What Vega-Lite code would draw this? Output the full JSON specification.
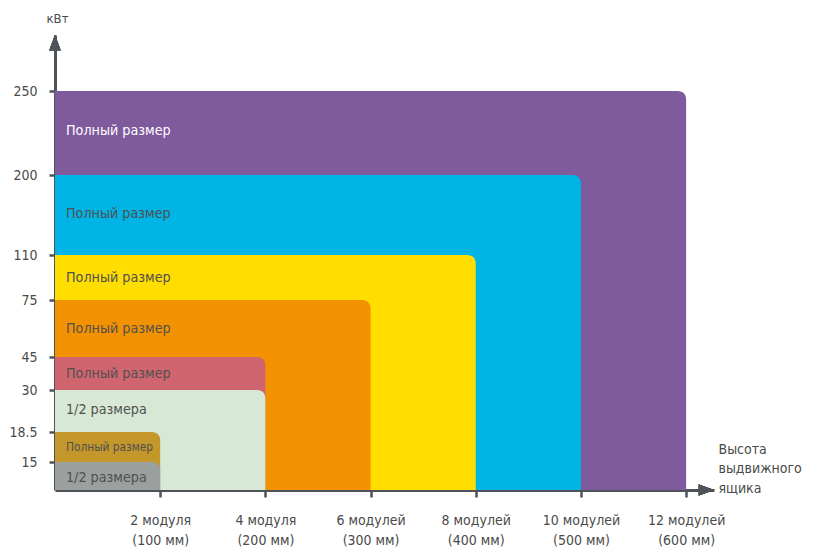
{
  "$schema": "https://vega.github.io/schema/vega-lite/v6.json",
  "autosize": "none",
  "width": 659,
  "height": 455,
  "padding": {"left": 55, "top": 35, "right": 102, "bottom": 58},
  "background": "white",
  "config": {"view": {"stroke": null}, "font": "DejaVu Sans Condensed, Liberation Sans"},
  "data": {"values": [
    {"series": "p250", "modules": 12, "kw": 250, "label": "Полный размер", "labelKw": 226},
    {"series": "p200", "modules": 10, "kw": 200, "label": "Полный размер", "labelKw": 156},
    {"series": "p110", "modules": 8, "kw": 110, "label": "Полный размер", "labelKw": 92},
    {"series": "p75", "modules": 6, "kw": 75, "label": "Полный размер", "labelKw": 60},
    {"series": "p45", "modules": 4, "kw": 45, "label": "Полный размер", "labelKw": 37.5},
    {"series": "h30", "modules": 4, "kw": 30, "label": "1/2 размера", "labelKw": 24.5},
    {"series": "p18", "modules": 2, "kw": 18.5, "label": "Полный размер", "labelKw": 16.7},
    {"series": "h15", "modules": 2, "kw": 15, "label": "1/2 размера", "labelKw": 6.5}
  ]},
  "layer": [
    {
      "mark": {"type": "rect", "cornerRadiusTopRight": 8},
      "encoding": {
        "x": {"field": "modules", "type": "quantitative",
          "scale": {"domain": [0, 12.53], "nice": false, "zero": false},
          "axis": {
            "values": [2, 4, 6, 8, 10, 12],
            "grid": false,
            "domainColor": "#4d5358", "domainWidth": 3,
            "tickColor": "#4d5358", "tickWidth": 2.5, "tickSize": 7,
            "labelPadding": 16, "labelBaseline": "top", "labelLineHeight": 20,
            "labelFontSize": 14, "labelColor": "#4a4a4a", "labelFont": "DejaVu Sans Condensed, Liberation Sans",
            "labelExpr": "[datum.value + (datum.value < 5 ? ' модуля' : ' модулей'), '(' + (datum.value * 50) + ' мм)']",
            "title": ["Высота", "выдвижного", "ящика"],
            "titleX": 663, "titleY": -48, "titleAlign": "left", "titleBaseline": "top",
            "titleFontSize": 14, "titleFontWeight": "normal", "titleColor": "#4a4a4a",
            "titleFont": "DejaVu Sans Condensed, Liberation Sans", "titleLineHeight": 19.5
          }
        },
        "x2": {"datum": 0},
        "y": {"field": "kw", "type": "quantitative",
          "scale": {
            "domain": [0, 15, 18.5, 30, 45, 75, 110, 200, 250, 283],
            "range": [455, 427, 397, 355, 322, 265, 220, 140, 56, 0],
            "nice": false, "zero": false
          },
          "axis": {
            "values": [15, 18.5, 30, 45, 75, 110, 200, 250],
            "grid": false,
            "domainColor": "#4d5358", "domainWidth": 3,
            "tickColor": "#4d5358", "tickWidth": 2.5, "tickSize": 6,
            "labelPadding": 12, "labelFontSize": 14, "labelColor": "#4a4a4a",
            "labelFont": "DejaVu Sans Condensed, Liberation Sans",
            "labelExpr": "datum.value + ''",
            "title": "кВт", "titleAngle": 0, "titleX": 2, "titleY": -17,
            "titleAlign": "center", "titleBaseline": "middle",
            "titleFontSize": 13, "titleFontWeight": "normal", "titleColor": "#4a4a4a",
            "titleFont": "DejaVu Sans Condensed, Liberation Sans"
          }
        },
        "y2": {"datum": 0},
        "color": {"field": "series", "type": "nominal", "legend": null,
          "sort": null,
          "scale": {
            "domain": ["p250", "p200", "p110", "p75", "p45", "h30", "p18", "h15"],
            "range": ["#7F5A9C", "#00B4E6", "#FFDD00", "#F39200", "#D0656F", "#D7E9D6", "#C4972B", "#9B9F9E"]
          }
        }
      }
    },
    {
      "transform": [{"filter": "datum.series !== 'p18'"}],
      "mark": {"type": "text", "align": "left", "baseline": "middle", "dx": 11, "fontSize": 14.2, "font": "DejaVu Sans Condensed, Liberation Sans"},
      "encoding": {
        "x": {"datum": 0, "type": "quantitative"},
        "y": {"field": "labelKw", "type": "quantitative"},
        "text": {"field": "label"},
        "color": {"condition": {"test": "datum.series === 'p250'", "value": "#ffffff"}, "value": "#505050"}
      }
    },
    {
      "transform": [{"filter": "datum.series === 'p18'"}],
      "mark": {"type": "text", "align": "left", "baseline": "middle", "dx": 11, "fontSize": 11.8, "color": "#505050", "font": "DejaVu Sans Condensed, Liberation Sans"},
      "encoding": {
        "x": {"datum": 0, "type": "quantitative"},
        "y": {"field": "labelKw", "type": "quantitative"},
        "text": {"field": "label"}
      }
    },
    {
      "mark": {"type": "point", "shape": "M0,0 L0.7,1.9 L-0.7,1.9 Z", "size": 256, "filled": true, "opacity": 1, "color": "#4d5358"},
      "encoding": {
        "x": {"datum": 0, "type": "quantitative"},
        "y": {"datum": 283, "type": "quantitative"}
      }
    },
    {
      "mark": {"type": "point", "shape": "M0,0 L-1.9,-0.7 L-1.9,0.7 Z", "size": 256, "filled": true, "opacity": 1, "color": "#4d5358"},
      "encoding": {
        "x": {"datum": 12.53, "type": "quantitative"},
        "y": {"datum": 0, "type": "quantitative"}
      }
    }
  ]
}
